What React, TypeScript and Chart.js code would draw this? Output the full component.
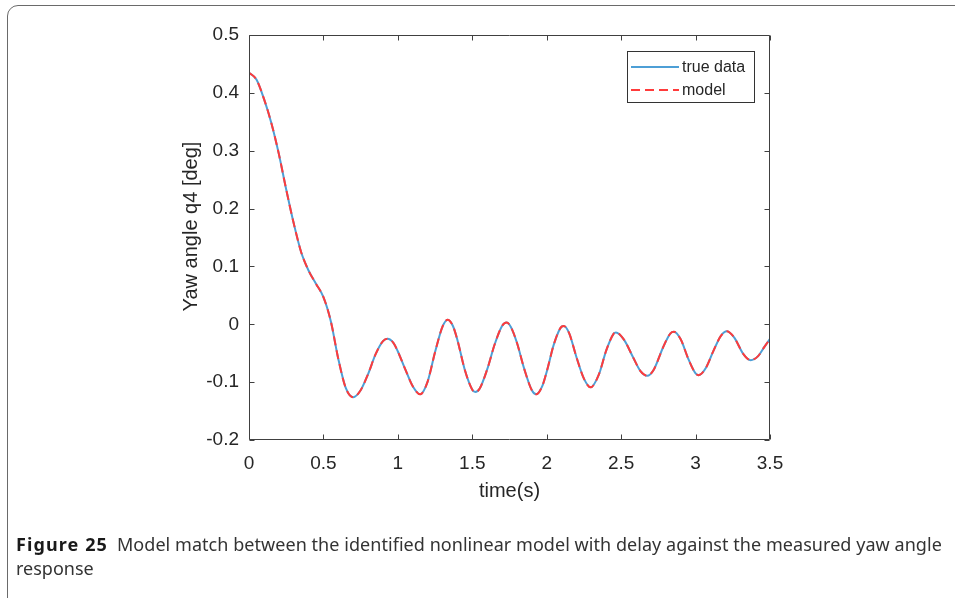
import React, { useEffect, useRef } from "react";
import { Chart, registerables } from "chart.js";

Chart.register(...registerables);

// time stamps (s)
const timeS = [
  0.0, 0.05, 0.1, 0.15, 0.2, 0.25, 0.3, 0.35, 0.4, 0.45, 0.5, 0.55, 0.6, 0.65, 0.7, 0.75, 0.8, 0.85, 0.9, 0.93,
  0.97, 1.0, 1.05, 1.1, 1.15, 1.2, 1.25, 1.3, 1.335, 1.37, 1.4, 1.45, 1.5, 1.52, 1.55, 1.6, 1.65, 1.7, 1.73,
  1.76, 1.8, 1.85, 1.9, 1.93, 1.97, 2.0, 2.05, 2.1, 2.115, 2.15, 2.2, 2.25, 2.295, 2.35, 2.4, 2.45, 2.465,
  2.52, 2.58, 2.63, 2.675, 2.72, 2.78, 2.83, 2.855, 2.9, 2.95, 3.0, 3.02, 3.07, 3.12, 3.17, 3.21, 3.26, 3.32,
  3.37, 3.42, 3.46, 3.5,
];

// measured yaw angle
const trueData = [
  0.435, 0.423, 0.39, 0.348, 0.295, 0.233, 0.175, 0.125, 0.093, 0.07, 0.047, 0.005, -0.06, -0.11, -0.126, -0.114,
  -0.086, -0.052, -0.029, -0.025, -0.032, -0.047, -0.078, -0.107, -0.121, -0.099, -0.048, -0.004, 0.008, -0.003, -0.027,
  -0.079, -0.113, -0.117, -0.111, -0.078, -0.035, -0.003, 0.003, -0.005, -0.032, -0.078, -0.114, -0.121, -0.107,
  -0.082, -0.033, -0.004, -0.003, -0.015, -0.057, -0.094, -0.109, -0.087, -0.045, -0.016, -0.014, -0.027, -0.057,
  -0.081, -0.089, -0.078, -0.041, -0.016, -0.013, -0.026, -0.059, -0.085, -0.088, -0.075, -0.046, -0.02, -0.012,
  -0.023, -0.051, -0.062, -0.055, -0.04, -0.025,
];

// identified nonlinear model with delay
const modelData = [
  0.435, 0.423, 0.39, 0.348, 0.295, 0.233, 0.175, 0.125, 0.093, 0.07, 0.047, 0.005, -0.06, -0.11, -0.126, -0.114,
  -0.086, -0.052, -0.029, -0.025, -0.032, -0.047, -0.078, -0.107, -0.121, -0.099, -0.048, -0.004, 0.008, -0.003, -0.027,
  -0.079, -0.113, -0.117, -0.111, -0.078, -0.035, -0.003, 0.003, -0.005, -0.032, -0.078, -0.114, -0.121, -0.107,
  -0.082, -0.033, -0.004, -0.003, -0.015, -0.057, -0.094, -0.109, -0.087, -0.045, -0.016, -0.014, -0.027, -0.057,
  -0.081, -0.089, -0.078, -0.041, -0.016, -0.013, -0.026, -0.059, -0.085, -0.088, -0.075, -0.046, -0.02, -0.012,
  -0.023, -0.051, -0.062, -0.055, -0.04, -0.025,
];

const xTicks = [0, 0.5, 1, 1.5, 2, 2.5, 3, 3.5];
const yTicks = [-0.2, -0.1, 0, 0.1, 0.2, 0.3, 0.4, 0.5];

const seriesLabels = ["true data", "model"];
const xTitle = "time(s)";
const yTitle = "Yaw angle q4 [deg]";

const AXIS_FONT = "'Liberation Sans', Arial, Helvetica, sans-serif";
const AXIS_COLOR = "#404040";
const TEXT_COLOR = "#262626";

const fmt = (v: number) => {
  const r = Math.round(v * 10) / 10;
  return r === 0 ? "0" : String(r);
};

const boxPlugin = {
  id: "matlabBox",
  afterDatasetsDraw(chart: any) {
    const { ctx, chartArea: a, scales } = chart;
    const xs = scales.x;
    const ys = scales.y;
    const L = Math.round(a.left) + 0.5;
    const R = Math.round(a.right) - 0.5;
    const T = Math.round(a.top) + 0.5;
    const B = Math.round(a.bottom) - 0.5;
    const tl = 5;
    ctx.save();
    ctx.strokeStyle = AXIS_COLOR;
    ctx.lineWidth = 1;
    ctx.beginPath();
    ctx.rect(L, T, R - L, B - T);
    xTicks.forEach((v) => {
      const px = Math.round(xs.getPixelForValue(v)) + 0.5;
      ctx.moveTo(px, B);
      ctx.lineTo(px, B - tl);
      ctx.moveTo(px, T);
      ctx.lineTo(px, T + tl);
    });
    yTicks.forEach((v) => {
      const py = Math.round(ys.getPixelForValue(v)) + 0.5;
      ctx.moveTo(L, py);
      ctx.lineTo(L + tl, py);
      ctx.moveTo(R, py);
      ctx.lineTo(R - tl, py);
    });
    ctx.stroke();

    // y-axis label (placed as in the reference, slightly above the axis centre)
    ctx.save();
    ctx.translate(ys.left + 12, (a.top + a.bottom) / 2 - 11);
    ctx.rotate(-Math.PI / 2);
    ctx.font = `20px ${AXIS_FONT}`;
    ctx.fillStyle = TEXT_COLOR;
    ctx.textAlign = "center";
    ctx.textBaseline = "middle";
    ctx.fillText(yTitle, 0, 0);
    ctx.restore();

    // legend (north-east, MATLAB style)
    const bx = 627.5;
    const by = 51.5;
    const bw = 127;
    const bh = 51;
    ctx.fillStyle = "#ffffff";
    ctx.fillRect(bx, by, bw, bh);
    ctx.strokeStyle = "#333333";
    ctx.strokeRect(bx, by, bw, bh);
    const rows = [67, 90];
    const ds = chart.data.datasets;
    ctx.font = `16px ${AXIS_FONT}`;
    ctx.textBaseline = "middle";
    ctx.textAlign = "left";
    rows.forEach((ry, i) => {
      const d = ds[i];
      ctx.save();
      ctx.strokeStyle = d.borderColor;
      ctx.lineWidth = d.borderWidth;
      ctx.setLineDash(d.borderDash || []);
      ctx.beginPath();
      ctx.moveTo(631, ry);
      ctx.lineTo(679, ry);
      ctx.stroke();
      ctx.restore();
      ctx.fillStyle = TEXT_COLOR;
      ctx.fillText(d.label, 682, ry + 0.5);
    });
    ctx.restore();
  },
};

export default function App() {
  const canvasRef = useRef<HTMLCanvasElement | null>(null);

  useEffect(() => {
    if (!canvasRef.current) return;
    const chart = new Chart(canvasRef.current, {
      type: "line",
      data: {
        datasets: [
          {
            label: seriesLabels[0],
            data: timeS.map((t, i) => ({ x: t, y: trueData[i] })),
            borderColor: "#4d9fd6",
            borderWidth: 2,
            pointRadius: 0,
            fill: false,
            cubicInterpolationMode: "monotone",
            order: 1,
          },
          {
            label: seriesLabels[1],
            data: timeS.map((t, i) => ({ x: t, y: modelData[i] })),
            borderColor: "#ff3b3b",
            borderWidth: 2,
            borderDash: [9, 5],
            pointRadius: 0,
            fill: false,
            cubicInterpolationMode: "monotone",
            order: 0,
          },
        ],
      },
      options: {
        responsive: false,
        animation: false,
        devicePixelRatio: 1,
        layout: { padding: { left: 179, right: 185, top: 35, bottom: 95 } },
        plugins: { legend: { display: false }, tooltip: { enabled: false } },
        scales: {
          x: {
            type: "linear",
            min: 0,
            max: 3.5,
            grid: { display: false, drawTicks: false },
            border: { display: false },
            afterBuildTicks: (s: any) => {
              s.ticks = xTicks.map((v) => ({ value: v }));
            },
            afterFit: (s: any) => {
              s.height = 63;
            },
            ticks: {
              font: { family: AXIS_FONT, size: 19 },
              color: TEXT_COLOR,
              padding: 12,
              maxRotation: 0,
              autoSkip: false,
              callback: (v: any) => String(v),
            },
            title: {
              display: true,
              text: xTitle,
              font: { family: AXIS_FONT, size: 20 },
              color: TEXT_COLOR,
              padding: { top: 0, bottom: 0 },
            },
          },
          y: {
            type: "linear",
            min: -0.2,
            max: 0.5,
            grid: { display: false, drawTicks: false },
            border: { display: false },
            afterBuildTicks: (s: any) => {
              s.ticks = yTicks.map((v) => ({ value: v }));
            },
            afterFit: (s: any) => {
              s.width = 70;
            },
            ticks: {
              font: { family: AXIS_FONT, size: 19 },
              color: TEXT_COLOR,
              padding: 10,
              autoSkip: false,
              callback: (v: any) => fmt(Number(v)),
            },
            title: { display: false },
          },
        },
      },
      plugins: [boxPlugin],
    } as any);
    return () => chart.destroy();
  }, []);

  return (
    <div
      style={{
        position: "fixed",
        left: 0,
        top: 0,
        width: 955,
        height: 598,
        overflow: "hidden",
        background: "#ffffff",
      }}
    >
      <canvas ref={canvasRef} width={955} height={598} style={{ position: "absolute", left: 0, top: 0 }} />
      <div
        style={{
          position: "absolute",
          left: 7,
          top: 5,
          width: 980,
          height: 620,
          border: "1.5px solid #6a6a6a",
          borderRadius: 11,
          boxSizing: "border-box",
          pointerEvents: "none",
        }}
      />
      <div
        style={{
          position: "absolute",
          left: 16,
          top: 532,
          fontFamily: "'Noto Sans', 'Open Sans', sans-serif",
          fontSize: 18,
          lineHeight: "24px",
          color: "#333333",
          whiteSpace: "nowrap",
        }}
      >
        <div style={{ letterSpacing: "0.05px" }}>
          <span style={{ fontWeight: 700, color: "#1a1a1a", marginRight: 9, letterSpacing: "1.1px" }}>Figure 25</span>
          Model match between the identified nonlinear model with delay against the measured yaw angle
        </div>
        <div>response</div>
      </div>
    </div>
  );
}
